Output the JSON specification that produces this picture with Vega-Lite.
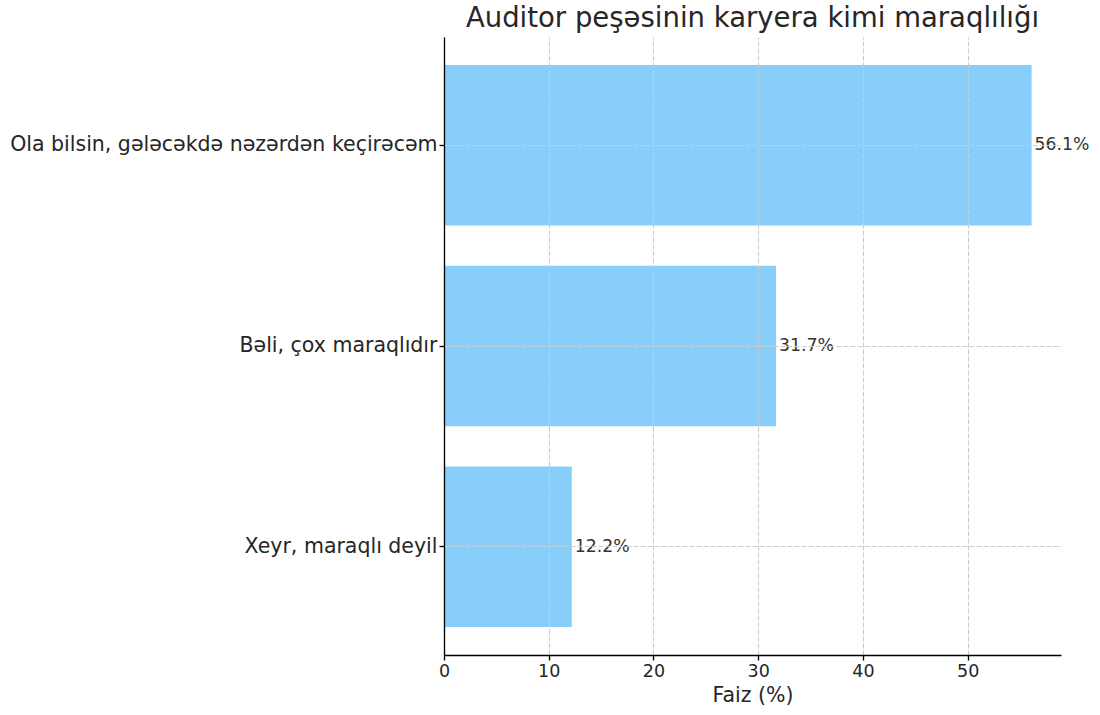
{
  "$schema": "https://vega.github.io/schema/vega-lite/v6.json",
  "width": 617,
  "height": 618,
  "autosize": {"type": "none"},
  "padding": {"left": 444, "top": 37, "right": 39, "bottom": 60},
  "background": "white",
  "title": {
    "text": "Auditor peşəsinin karyera kimi maraqlılığı",
    "fontSize": 27.5,
    "font": "DejaVu Sans",
    "fontWeight": "normal",
    "color": "#262626",
    "anchor": "middle",
    "offset": 5
  },
  "config": {"view": {"stroke": null}},
  "data": {
    "values": [
      {"cavab": "Ola bilsin, gələcəkdə nəzərdən keçirəcəm", "faiz": 56.1, "label": "56.1%"},
      {"cavab": "Bəli, çox maraqlıdır", "faiz": 31.7, "label": "31.7%"},
      {"cavab": "Xeyr, maraqlı deyil", "faiz": 12.2, "label": "12.2%"}
    ]
  },
  "encoding": {
    "y": {
      "field": "cavab",
      "type": "nominal",
      "sort": null,
      "scale": {"paddingInner": 0.2, "paddingOuter": 0.14},
      "axis": {
        "title": null,
        "labelFont": "DejaVu Sans",
        "labelFontSize": 20.5,
        "labelColor": "#262626",
        "labelLimit": 1000,
        "labelPadding": 2,
        "tickSize": 5,
        "tickColor": "#000000",
        "tickWidth": 1.33,
        "domainColor": "#000000",
        "domainWidth": 1.33,
        "grid": true,
        "gridDash": [5, 2],
        "gridColor": "#cccccc",
        "gridWidth": 1.1,
        "bandPosition": 0.5,
        "zindex": 1
      }
    },
    "x": {
      "field": "faiz",
      "type": "quantitative",
      "scale": {"domain": [0, 58.905], "nice": false, "zero": true},
      "axis": {
        "title": "Faiz (%)",
        "titleFont": "DejaVu Sans",
        "titleFontSize": 20.5,
        "titleFontWeight": "normal",
        "titleColor": "#262626",
        "titlePadding": 6,
        "values": [0, 10, 20, 30, 40, 50],
        "labelFont": "DejaVu Sans",
        "labelFontSize": 17.5,
        "labelColor": "#262626",
        "labelPadding": 2,
        "labelFlush": false,
        "tickSize": 5,
        "tickColor": "#000000",
        "tickWidth": 1.33,
        "domainColor": "#000000",
        "domainWidth": 1.33,
        "grid": true,
        "gridDash": [5, 2],
        "gridColor": "#cccccc",
        "gridWidth": 1.1,
        "zindex": 1
      }
    }
  },
  "layer": [
    {"mark": {"type": "bar", "color": "#87CEFA"}},
    {
      "mark": {
        "type": "text",
        "align": "left",
        "baseline": "middle",
        "dx": 3,
        "fontSize": 17.3,
        "font": "DejaVu Sans",
        "color": "#333333"
      },
      "encoding": {"text": {"field": "label"}}
    }
  ]
}
